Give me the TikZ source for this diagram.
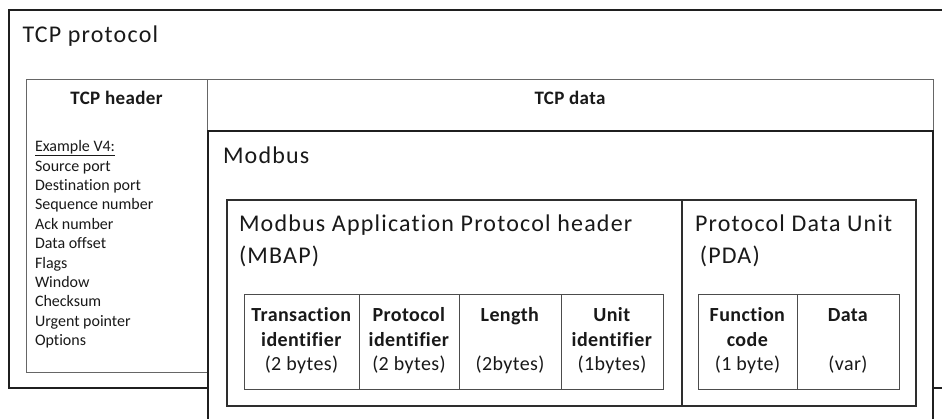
\documentclass[tikz,border=0pt]{standalone}
\usepackage{fontspec}
\setmainfont{Carlito}[Ligatures={NoCommon}]
\newfontfamily\bigfont{Carlito}[Ligatures={NoCommon}, LetterSpace=5]
\newfontfamily\midfont{Carlito}[Ligatures={NoCommon}, LetterSpace=2]
\begin{document}
\begin{tikzpicture}[x=1pt,y=-1pt,
  box/.style={rectangle, inner sep=0pt, outer sep=0pt, anchor=north west},
  thickbox/.style={box, draw=black!88, line width=1.8pt, fill=white},
  thinbox/.style={box, draw=black!60, line width=0.9pt},
  midbox/.style={box, draw=black!82, line width=1.2pt},
  fieldbox/.style={box, draw=black!70, line width=0.9pt},
  lbl/.style={inner sep=0pt, outer sep=0pt, anchor=base west, text=black!90},
  clbl/.style={inner sep=0pt, outer sep=0pt, anchor=base, text=black!90},
  big/.style={font=\bigfont\fontsize{24}{31.5}\selectfont},
  hdr/.style={font=\midfont\fontsize{19}{24}\selectfont\bfseries},
  lst/.style={font=\fontsize{16}{19.4}\selectfont},
  fld/.style={font=\midfont\fontsize{20}{24.5}\selectfont}
]
\useasboundingbox (0,0) rectangle (942,419);
\clip (0,0) rectangle (942,419);

% boxes
\node[thickbox, minimum width=961pt, minimum height=378pt] (tcp) at (9,10) {};
\node[thinbox, minimum width=181pt, minimum height=293pt] (hdrbox) at (26,79) {};
\node[thinbox, minimum width=726pt, minimum height=51pt] (databox) at (207,79) {};
\node[thickbox, minimum width=725pt, minimum height=320pt] (modbus) at (208,131) {};
\node[midbox, minimum width=455pt, minimum height=206pt] (mbap) at (227,200) {};
\node[midbox, minimum width=234pt, minimum height=206pt] (pda) at (682,200) {};
\node[fieldbox, minimum width=115pt, minimum height=95pt] (f1) at (244,294) {};
\node[fieldbox, minimum width=100pt, minimum height=95pt] (f2) at (359,294) {};
\node[fieldbox, minimum width=102pt, minimum height=95pt] (f3) at (459,294) {};
\node[fieldbox, minimum width=102pt, minimum height=95pt] (f4) at (561,294) {};
\node[fieldbox, minimum width=99pt, minimum height=95pt] (f5) at (698,294) {};
\node[fieldbox, minimum width=102pt, minimum height=95pt] (f6) at (797,294) {};

% texts
\node[lbl, big] (ttcp) at (22.5,43) {TCP protocol};
\node[clbl, hdr] (thdr) at (116.5,105) {TCP header};
\node[clbl, hdr] (tdata) at (570,105) {TCP data};
\node[lbl, lst] (tlist) at (35,151.7) {\begin{tabular}[t]{@{}l@{}}\underline{Example V4:}\\Source port\\Destination port\\Sequence number\\Ack number\\Data offset\\Flags\\Window\\Checksum\\Urgent pointer\\Options\end{tabular}};
\node[lbl, big] (tmodbus) at (223,164) {Modbus};
\node[lbl, big] (tmbap) at (239,232) {\begin{tabular}[t]{@{}l@{}}Modbus Application Protocol header\\(MBAP)\end{tabular}};
\node[lbl, big] (tpda) at (695,232) {\begin{tabular}[t]{@{}l@{}}Protocol Data Unit\\\hspace*{0.2em}(PDA)\end{tabular}};

\node[clbl, fld] (t1) at (301.5,321.7) {\begin{tabular}[t]{@{}c@{}}\textbf{Transaction}\\\textbf{identifier}\\(2 bytes)\end{tabular}};
\node[clbl, fld] (t2) at (409,321.7) {\begin{tabular}[t]{@{}c@{}}\textbf{Protocol}\\\textbf{identifier}\\(2 bytes)\end{tabular}};
\node[clbl, fld] (t3) at (510,321.7) {\begin{tabular}[t]{@{}c@{}}\textbf{Length}\\\\(2bytes)\end{tabular}};
\node[clbl, fld] (t4) at (612,321.7) {\begin{tabular}[t]{@{}c@{}}\textbf{Unit}\\\textbf{identifier}\\(1bytes)\end{tabular}};
\node[clbl, fld] (t5) at (747.5,321.7) {\begin{tabular}[t]{@{}c@{}}\textbf{Function}\\\textbf{code}\\(1 byte)\end{tabular}};
\node[clbl, fld] (t6) at (848,321.7) {\begin{tabular}[t]{@{}c@{}}\textbf{Data}\\\\(var)\end{tabular}};
\end{tikzpicture}
\end{document}
